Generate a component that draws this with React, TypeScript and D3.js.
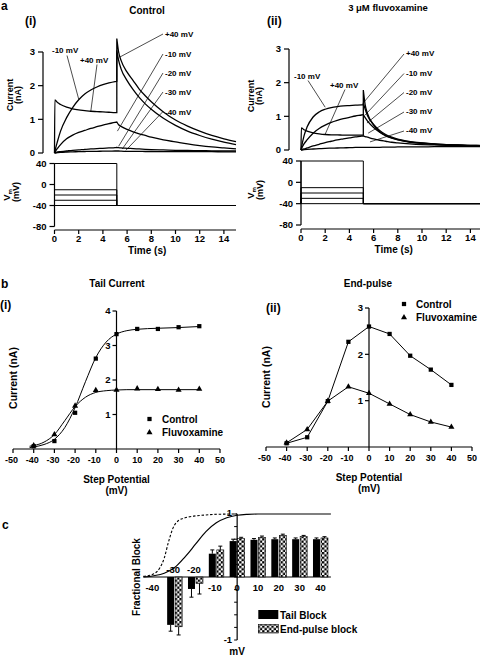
import React from 'react';
import * as d3 from 'd3';

const FONT = '"Liberation Sans", Arial, Helvetica, sans-serif';

// ===== Panel a: whole-cell current traces (nA) =====
const stepTimes = [0, 0.03, 0.25, 0.5, 1, 1.5, 2, 2.5, 3, 3.5, 4, 4.5, 5, 5.15];
const tailTimes = [5.15, 5.3, 5.5, 6, 6.5, 7, 7.5, 8, 9, 10, 11, 12, 13, 14, 15];
const traceLabels = ['+40 mV', '-10 mV', '-20 mV', '-30 mV', '-40 mV'];

const ctrlP40Step = [0, 1.58, 1.5, 1.44, 1.36, 1.31, 1.28, 1.26, 1.24, 1.23, 1.22, 1.21, 1.2, 1.2];
const ctrlM10Step = [0, 0.05, 0.35, 0.65, 1.05, 1.35, 1.58, 1.75, 1.87, 1.96, 2.03, 2.08, 2.12, 2.13];
const ctrlM20Step = [0, 0.02, 0.14, 0.25, 0.42, 0.53, 0.61, 0.67, 0.73, 0.78, 0.83, 0.87, 0.91, 0.92];
const ctrlM30Step = [0, 0.01, 0.03, 0.04, 0.06, 0.08, 0.09, 0.11, 0.12, 0.13, 0.14, 0.15, 0.16, 0.17];
const ctrlM40Step = [0, 0, 0.01, 0.02, 0.03, 0.035, 0.04, 0.045, 0.05, 0.05, 0.055, 0.055, 0.06, 0.06];
const ctrlP40Tail = [3.4, 3.0, 2.75, 2.4, 2.15, 1.9, 1.7, 1.52, 1.22, 0.98, 0.8, 0.65, 0.52, 0.42, 0.34];
const ctrlM10Tail = [3.05, 2.75, 2.5, 2.15, 1.88, 1.65, 1.46, 1.3, 1.03, 0.82, 0.65, 0.52, 0.41, 0.32, 0.25];
const ctrlM20Tail = [0.92, 0.84, 0.79, 0.7, 0.63, 0.57, 0.52, 0.47, 0.39, 0.33, 0.27, 0.22, 0.18, 0.15, 0.12];
const ctrlM30Tail = [0.17, 0.16, 0.15, 0.14, 0.13, 0.12, 0.11, 0.1, 0.09, 0.08, 0.075, 0.07, 0.065, 0.06, 0.06];
const ctrlM40Tail = [0.06, 0.06, 0.055, 0.05, 0.05, 0.05, 0.045, 0.045, 0.04, 0.04, 0.04, 0.04, 0.04, 0.035, 0.035];

const fluvP40Step = [0, 0.66, 0.6, 0.56, 0.51, 0.48, 0.46, 0.45, 0.45, 0.44, 0.44, 0.44, 0.44, 0.44];
const fluvM10Step = [0, 0.06, 0.42, 0.68, 0.98, 1.13, 1.21, 1.26, 1.29, 1.31, 1.32, 1.33, 1.34, 1.34];
const fluvM20Step = [0, 0.03, 0.18, 0.3, 0.5, 0.64, 0.74, 0.82, 0.88, 0.93, 0.97, 1.01, 1.04, 1.05];
const fluvM30Step = [0, 0.01, 0.03, 0.06, 0.12, 0.17, 0.22, 0.26, 0.3, 0.33, 0.36, 0.39, 0.41, 0.42];
const fluvM40Step = [0, 0, 0.01, 0.02, 0.03, 0.04, 0.05, 0.055, 0.06, 0.065, 0.07, 0.075, 0.08, 0.08];
const fluvP40Tail = [1.78, 1.35, 1.08, 0.74, 0.54, 0.42, 0.35, 0.3, 0.23, 0.2, 0.18, 0.16, 0.15, 0.14, 0.14];
const fluvM10Tail = [1.4, 1.22, 1.02, 0.76, 0.58, 0.46, 0.38, 0.32, 0.25, 0.21, 0.18, 0.16, 0.15, 0.14, 0.13];
const fluvM20Tail = [1.05, 0.96, 0.86, 0.67, 0.53, 0.43, 0.36, 0.31, 0.24, 0.2, 0.17, 0.15, 0.14, 0.13, 0.13];
const fluvM30Tail = [0.42, 0.4, 0.38, 0.33, 0.29, 0.26, 0.23, 0.21, 0.18, 0.16, 0.15, 0.14, 0.13, 0.12, 0.12];
const fluvM40Tail = [0.08, 0.08, 0.08, 0.08, 0.08, 0.085, 0.085, 0.09, 0.09, 0.09, 0.1, 0.1, 0.1, 0.1, 0.1];

// voltage protocol (mV, s)
const stepPotentials = [40, -10, -20, -30, -40];
const holdingPotential = -40;
const pulseEnd = 5.15;
const sweepEnd = 15;
const timeTicks = [0, 2, 4, 6, 8, 10, 12, 14];
const currentTicksA = [0, 1, 2, 3];
const vmTicks = [40, 0, -40, -80];

// ===== Panel b: I-V relations (nA) =====
const stepV = [-40, -30, -20, -10, 0, 10, 20, 30, 40];
const tailControl = [0.08, 0.23, 1.05, 2.62, 3.33, 3.48, 3.48, 3.53, 3.56];
const tailFluv = [0.1, 0.42, 1.25, 1.7, 1.71, 1.75, 1.73, 1.71, 1.74];
const tailFitV = [-42, -40, -35, -30, -25, -20, -15, -10, -5, 0, 5, 10, 20, 30, 40];
const tailFitControl = [0.04, 0.06, 0.13, 0.28, 0.62, 1.2, 1.95, 2.65, 3.1, 3.33, 3.43, 3.47, 3.5, 3.52, 3.55];
const tailFitFluv = [0.08, 0.1, 0.2, 0.42, 0.82, 1.23, 1.5, 1.64, 1.69, 1.71, 1.72, 1.72, 1.72, 1.72, 1.72];
const endControl = [0.08, 0.21, 0.99, 2.27, 2.6, 2.44, 1.97, 1.67, 1.34];
const endFluv = [0.09, 0.38, 0.99, 1.3, 1.16, 0.93, 0.7, 0.54, 0.43];
const ivTicks = [-50, -40, -30, -20, -10, 0, 10, 20, 30, 40, 50];
const tailYTicks = [1, 2, 3, 4];
const endYTicks = [1, 2, 3];

// ===== Panel c: fractional block =====
const cVoltages = [-40, -30, -20, -10, 0, 10, 20, 30, 40];
const tailBlock = [0, -0.76, -0.19, 0.37, 0.57, 0.59, 0.6, 0.6, 0.6];
const tailBlockErr = [0, 0.1, 0.13, 0.06, 0.03, 0.02, 0.02, 0.02, 0.02];
const endBlock = [0, -0.79, -0.1, 0.43, 0.61, 0.63, 0.66, 0.64, 0.62];
const endBlockErr = [0, 0.13, 0.17, 0.06, 0.02, 0.02, 0.02, 0.02, 0.02];
const actSolidV = [-45, -40, -35, -30, -25, -20, -15, -10, -5, 0, 5, 10, 45];
const actSolid = [0, 0.02, 0.06, 0.15, 0.32, 0.52, 0.72, 0.86, 0.94, 0.98, 0.995, 1, 1];
const actDashedV = [-45, -40, -37, -35, -33, -31, -28, -25, -20, -15, -10, 0];
const actDashed = [0.01, 0.05, 0.15, 0.3, 0.55, 0.76, 0.9, 0.94, 0.97, 0.985, 0.995, 1];
const blockTicks = [-1, -0.8, -0.6, -0.4, -0.2, 0, 0.2, 0.4, 0.6, 0.8, 1];

type Ann = { text: string; x: number; y: number; from: [number, number]; to: [number, number] };

function TracePanel(props: {
  tx: d3.ScaleLinear<number, number>;
  iy: d3.ScaleLinear<number, number>;
  vy: d3.ScaleLinear<number, number>;
  iAxisX: number;
  tAxisY: number;
  steps: number[][];
  tails: number[][];
  anns: Ann[];
  iLabelX: number;
  vLabelX: number;
  iLabelY: number;
  vLabelY: number;
}) {
  const { tx, iy, vy, iAxisX, tAxisY, steps, tails, anns, iLabelX, vLabelX, iLabelY, vLabelY } = props;
  const line = d3.line<[number, number]>().curve(d3.curveMonotoneX);
  const paths = steps.map((s, k) => {
    const a = line(stepTimes.map((t, i) => [tx(t), iy(s[i])] as [number, number]))!;
    const b = line(tailTimes.map((t, i) => [tx(t), iy(tails[k][i])] as [number, number]))!;
    return a + 'L' + b.slice(1);
  });
  const straight = d3.line<[number, number]>();
  const vPaths = stepPotentials.map((p) =>
    straight([
      [tx(0), vy(holdingPotential)],
      [tx(0), vy(p)],
      [tx(pulseEnd), vy(p)],
      [tx(pulseEnd), vy(holdingPotential)],
      [tx(sweepEnd), vy(holdingPotential)],
    ])!
  );
  const vAxisX = tx(0);
  return (
    <g>
      {/* current axis */}
      <line x1={iAxisX} x2={iAxisX} y1={iy(0)} y2={iy(3)} stroke="#000" strokeWidth={1.2} />
      {currentTicksA.map((v) => (
        <g key={'ci' + v}>
          <line x1={iAxisX - 5} x2={iAxisX} y1={iy(v)} y2={iy(v)} stroke="#000" strokeWidth={1.2} />
          <text x={iAxisX - 8} y={iy(v) + 3.3} fontSize={9.5} textAnchor="end">{v}</text>
        </g>
      ))}
      {/* traces */}
      {paths.map((d, i) => (
        <path key={'tr' + i} d={d} fill="none" stroke="#000" strokeWidth={1.3} />
      ))}
      {/* annotations */}
      {anns.map((a, i) => (
        <g key={'an' + i}>
          <text x={a.x} y={a.y} fontSize={8}>{a.text}</text>
          <line x1={a.from[0]} y1={a.from[1]} x2={tx(a.to[0])} y2={iy(a.to[1])} stroke="#000" strokeWidth={0.7} />
        </g>
      ))}
      {/* Vm axis */}
      <line x1={vAxisX} x2={vAxisX} y1={vy(40)} y2={vy(-80)} stroke="#000" strokeWidth={1.2} />
      {vmTicks.map((v) => (
        <g key={'vt' + v}>
          <line x1={vAxisX - 5} x2={vAxisX} y1={vy(v)} y2={vy(v)} stroke="#000" strokeWidth={1.2} />
          <text x={vAxisX - 8} y={vy(v) + 3.3} fontSize={9.5} textAnchor="end">{v}</text>
        </g>
      ))}
      {vPaths.map((d, i) => (
        <path key={'vp' + i} d={d} fill="none" stroke="#000" strokeWidth={1} />
      ))}
      {/* time axis */}
      <line x1={tx(0)} x2={tx(15)} y1={tAxisY} y2={tAxisY} stroke="#000" strokeWidth={1.2} />
      {timeTicks.map((t) => (
        <g key={'tt' + t}>
          <line x1={tx(t)} x2={tx(t)} y1={tAxisY} y2={tAxisY + 4} stroke="#000" strokeWidth={1.2} />
          <text x={tx(t)} y={tAxisY + 12} fontSize={9.5} textAnchor="middle">{t}</text>
        </g>
      ))}
      <text x={(tx(0) + tx(14)) / 2 + 8} y={tAxisY + 24} fontSize={10} textAnchor="middle">Time (s)</text>
      {/* axis titles */}
      <text transform={`translate(${iLabelX},${iLabelY}) rotate(-90)`} fontSize={9} textAnchor="middle">Current</text>
      <text transform={`translate(${iLabelX + 8},${iLabelY}) rotate(-90)`} fontSize={9} textAnchor="middle">(nA)</text>
      <text transform={`translate(${vLabelX},${vLabelY + 3}) rotate(-90)`} fontSize={9.5} textAnchor="middle">
        V<tspan fontSize={6} dy={2}>m</tspan>
      </text>
      <text transform={`translate(${vLabelX + 9},${vLabelY}) rotate(-90)`} fontSize={9} textAnchor="middle">(mV)</text>
    </g>
  );
}

export default function App() {
  // ---- panel a scales ----
  const tx1 = d3.scaleLinear().domain([0, 15]).range([54.5, 236]);
  const iy1 = d3.scaleLinear().domain([0, 3]).range([153, 52]);
  const vy1 = d3.scaleLinear().domain([-80, 40]).range([226.5, 163.5]);
  const tx2 = d3.scaleLinear().domain([0, 15]).range([301, 482.5]);
  const iy2 = d3.scaleLinear().domain([0, 3]).range([150, 49]);
  const vy2 = d3.scaleLinear().domain([-80, 40]).range([225, 161]);

  const ann1: Ann[] = [
    { text: '-10 mV', x: 52, y: 53, from: [67, 55.5], to: [2, 1.6] },
    { text: '+40 mV', x: 80, y: 63, from: [97, 64.5], to: [3, 1.24] },
    { text: traceLabels[0], x: 165, y: 37, from: [163, 34], to: [5.4, 2.85] },
    { text: traceLabels[1], x: 165, y: 57, from: [163, 54], to: [5.2, 0.65] },
    { text: traceLabels[2], x: 165, y: 76, from: [163, 73], to: [5.3, 0.2] },
    { text: traceLabels[3], x: 165, y: 95, from: [163, 92], to: [5.6, 0.12] },
    { text: traceLabels[4], x: 165, y: 114.5, from: [163, 111.5], to: [5.9, 0.08] },
  ];
  const ann2: Ann[] = [
    { text: '-10 mV', x: 294, y: 79, from: [308, 80.5], to: [2, 1.27] },
    { text: '+40 mV', x: 330, y: 88, from: [345, 89.5], to: [2, 0.47] },
    { text: traceLabels[0], x: 406, y: 56, from: [404, 54], to: [5.15, 1.4] },
    { text: traceLabels[1], x: 406, y: 75.5, from: [404, 73.5], to: [5.3, 1.04] },
    { text: traceLabels[2], x: 406, y: 94.5, from: [404, 92.5], to: [5.45, 0.8] },
    { text: traceLabels[3], x: 406, y: 114, from: [404, 112], to: [5.55, 0.5] },
    { text: traceLabels[4], x: 406, y: 133, from: [404, 131], to: [5.7, 0.24] },
  ];

  // ---- panel b scales ----
  const bx1 = d3.scaleLinear().domain([-50, 50]).range([13, 220]);
  const by1 = d3.scaleLinear().domain([0, 4]).range([449, 311]);
  const bx2 = d3.scaleLinear().domain([-50, 50]).range([266, 472]);
  const by2 = d3.scaleLinear().domain([0, 3]).range([447, 308]);
  const sq = d3.symbol().type(d3.symbolSquare).size(18)()!;
  const tri = d3.symbol().type(d3.symbolTriangle).size(16)()!;
  const smooth = d3.line<[number, number]>().curve(d3.curveMonotoneX);
  const straight = d3.line<[number, number]>();

  const fitCtrl = smooth(tailFitV.map((v, i) => [bx1(v), by1(tailFitControl[i])] as [number, number]))!;
  const fitFluv = smooth(tailFitV.map((v, i) => [bx1(v), by1(tailFitFluv[i])] as [number, number]))!;
  const endCtrlPath = straight(stepV.map((v, i) => [bx2(v), by2(endControl[i])] as [number, number]))!;
  const endFluvPath = straight(stepV.map((v, i) => [bx2(v), by2(endFluv[i])] as [number, number]))!;

  // ---- panel c scales ----
  const cx = d3.scaleLinear().domain([-45, 45]).range([143.4, 330.9]);
  const cy = d3.scaleLinear().domain([-1, 1]).range([640, 514]);
  const solidPath = smooth(actSolidV.map((v, i) => [cx(v), cy(actSolid[i])] as [number, number]))!;
  const dashedPath = smooth(actDashedV.map((v, i) => [cx(v), cy(actDashed[i])] as [number, number]))!;
  const barW = 7;

  const IVAxes = (bx: d3.ScaleLinear<number, number>, by: d3.ScaleLinear<number, number>, yt: number[], ymax: number, key: string) => (
    <g key={key}>
      <line x1={bx(-50)} x2={bx(50)} y1={by(0)} y2={by(0)} stroke="#000" strokeWidth={1.2} />
      {ivTicks.map((v) => (
        <g key={key + 'x' + v}>
          <line x1={bx(v)} x2={bx(v)} y1={by(0)} y2={by(0) + 4} stroke="#000" strokeWidth={1.2} />
          <text x={bx(v) - (v < 0 ? 1.5 : 0)} y={by(0) + 14} fontSize={9} textAnchor="middle">{v}</text>
        </g>
      ))}
      <line x1={bx(0)} x2={bx(0)} y1={by(0)} y2={by(ymax)} stroke="#000" strokeWidth={1.2} />
      {yt.map((v) => (
        <g key={key + 'y' + v}>
          <line x1={bx(0) - 4} x2={bx(0)} y1={by(v)} y2={by(v)} stroke="#000" strokeWidth={1.2} />
          <text x={bx(0) - 6} y={by(v) + 3.3} fontSize={9.5} textAnchor="end">{v}</text>
        </g>
      ))}
      <text x={bx(0)} y={by(0) + 34} fontSize={10} textAnchor="middle">Step Potential</text>
      <text x={bx(0)} y={by(0) + 45} fontSize={10} textAnchor="middle">(mV)</text>
    </g>
  );

  return (
    <svg
      width={480}
      height={659}
      style={{ position: 'absolute', left: 0, top: 0, background: '#fff' }}
      fontFamily={FONT}
      fontWeight="bold"
    >
      <defs>
        <pattern id="checker" width={4.6} height={4.6} patternUnits="userSpaceOnUse">
          <rect width={4.6} height={4.6} fill="#fff" />
          <rect width={2.3} height={2.3} fill="#000" />
          <rect x={2.3} y={2.3} width={2.3} height={2.3} fill="#000" />
        </pattern>
      </defs>
      <rect width={480} height={659} fill="#fff" />

      {/* ===== a ===== */}
      <text x={1} y={10} fontSize={12}>a</text>
      <text x={25} y={25} fontSize={12}>(i)</text>
      <text x={147} y={13.5} fontSize={10} textAnchor="middle">Control</text>
      <text x={267} y={25} fontSize={12}>(ii)</text>
      <text x={388} y={11} fontSize={9.5} textAnchor="middle">3 μM fluvoxamine</text>
      <TracePanel
        tx={tx1} iy={iy1} vy={vy1} iAxisX={43} tAxisY={230}
        steps={[ctrlP40Step, ctrlM10Step, ctrlM20Step, ctrlM30Step, ctrlM40Step]}
        tails={[ctrlP40Tail, ctrlM10Tail, ctrlM20Tail, ctrlM30Tail, ctrlM40Tail]}
        anns={ann1} iLabelX={13} vLabelX={10} iLabelY={95} vLabelY={192}
      />
      <TracePanel
        tx={tx2} iy={iy2} vy={vy2} iAxisX={289} tAxisY={229}
        steps={[fluvP40Step, fluvM10Step, fluvM20Step, fluvM30Step, fluvM40Step]}
        tails={[fluvP40Tail, fluvM10Tail, fluvM20Tail, fluvM30Tail, fluvM40Tail]}
        anns={ann2} iLabelX={254} vLabelX={254} iLabelY={96} vLabelY={190}
      />

      {/* ===== b ===== */}
      <text x={1} y={288} fontSize={12}>b</text>
      <text x={117} y={287} fontSize={10} textAnchor="middle">Tail Current</text>
      <text x={368} y={287} fontSize={10} textAnchor="middle">End-pulse</text>
      <text x={0} y={309} fontSize={12}>(i)</text>
      <text x={266} y={312} fontSize={12}>(ii)</text>
      <text transform="translate(17,378) rotate(-90)" fontSize={10.5} textAnchor="middle">Current (nA)</text>
      <text transform="translate(270,377) rotate(-90)" fontSize={10.5} textAnchor="middle">Current (nA)</text>

      {IVAxes(bx1, by1, tailYTicks, 4, 'b1')}
      <path d={fitCtrl} fill="none" stroke="#000" strokeWidth={1} />
      <path d={fitFluv} fill="none" stroke="#000" strokeWidth={1} />
      {stepV.map((v, i) => (
        <path key={'tc' + v} d={sq} transform={`translate(${bx1(v)},${by1(tailControl[i])})`} fill="#000" />
      ))}
      {stepV.map((v, i) => (
        <path key={'tf' + v} d={tri} transform={`translate(${bx1(v)},${by1(tailFluv[i])})`} fill="#000" />
      ))}
      <path d={sq} transform="translate(149.5,419)" fill="#000" />
      <text x={162} y={422.5} fontSize={10}>Control</text>
      <path d={tri} transform="translate(149.5,432.5)" fill="#000" />
      <text x={162} y={436} fontSize={10}>Fluvoxamine</text>

      {IVAxes(bx2, by2, endYTicks, 3, 'b2')}
      <path d={endCtrlPath} fill="none" stroke="#000" strokeWidth={1} />
      <path d={endFluvPath} fill="none" stroke="#000" strokeWidth={1} />
      {stepV.map((v, i) => (
        <path key={'ec' + v} d={sq} transform={`translate(${bx2(v)},${by2(endControl[i])})`} fill="#000" />
      ))}
      {stepV.map((v, i) => (
        <path key={'ef' + v} d={tri} transform={`translate(${bx2(v)},${by2(endFluv[i])})`} fill="#000" />
      ))}
      <path d={sq} transform="translate(404,304)" fill="#000" />
      <text x={416} y={308} fontSize={10}>Control</text>
      <path d={tri} transform="translate(404,317.5)" fill="#000" />
      <text x={416} y={321} fontSize={10}>Fluvoxamine</text>

      {/* ===== c ===== */}
      <text x={2} y={529} fontSize={12}>c</text>
      <line x1={cx(-45)} x2={cx(45)} y1={cy(0)} y2={cy(0)} stroke="#000" strokeWidth={1.2} />
      <line x1={cx(0)} x2={cx(0)} y1={cy(1)} y2={cy(-1)} stroke="#000" strokeWidth={1.2} />
      {blockTicks.map((v) => (
        <line key={'bt' + v} x1={cx(0) - 3} x2={cx(0)} y1={cy(v)} y2={cy(v)} stroke="#000" strokeWidth={1} />
      ))}
      <text x={cx(0) - 5} y={cy(1) + 2} fontSize={9.5} textAnchor="end">1</text>
      <text x={cx(0) - 5} y={cy(-1) + 3.3} fontSize={9.5} textAnchor="end">-1</text>
      <path d={solidPath} fill="none" stroke="#000" strokeWidth={1.2} />
      <path d={dashedPath} fill="none" stroke="#000" strokeWidth={1.1} strokeDasharray="2.5,1.8" />
      {cVoltages.map((v, i) => {
        const c = cx(v);
        const t = tailBlock[i];
        const e = endBlock[i];
        const te = tailBlockErr[i];
        const ee = endBlockErr[i];
        const tEnd = t + Math.sign(t) * te;
        const eEnd = e + Math.sign(e) * ee;
        return (
          <g key={'cb' + v}>
            {t !== 0 && (
              <g>
                <rect x={c - 7.5} width={barW} y={Math.min(cy(t), cy(0))} height={Math.abs(cy(t) - cy(0))} fill="#000" />
                <line x1={c - 4} x2={c - 4} y1={cy(t)} y2={cy(tEnd)} stroke="#000" strokeWidth={1} />
                <line x1={c - 6} x2={c - 2} y1={cy(tEnd)} y2={cy(tEnd)} stroke="#000" strokeWidth={1} />
              </g>
            )}
            {e !== 0 && (
              <g>
                <rect x={c + 0.5} width={barW} y={Math.min(cy(e), cy(0))} height={Math.abs(cy(e) - cy(0))} fill="url(#checker)" stroke="#000" strokeWidth={0.6} />
                <line x1={c + 4} x2={c + 4} y1={cy(e)} y2={cy(eEnd)} stroke="#000" strokeWidth={1} />
                <line x1={c + 2} x2={c + 6} y1={cy(eEnd)} y2={cy(eEnd)} stroke="#000" strokeWidth={1} />
              </g>
            )}
          </g>
        );
      })}
      {cVoltages.map((v, i) => {
        const above = tailBlock[i] < 0;
        return (
          <text key={'cl' + v} x={cx(v) - (v < 0 ? 1.5 : 0)} y={above ? cy(0) - 4 : cy(0) + 14} fontSize={9.5} textAnchor="middle">
            {v}
          </text>
        );
      })}
      <text transform="translate(140,577) rotate(-90)" fontSize={10} textAnchor="middle">Fractional Block</text>
      <text x={cx(0)} y={655} fontSize={10} textAnchor="middle">mV</text>
      <rect x={258.3} y={610} width={20} height={9} fill="#000" />
      <text x={280} y={619} fontSize={10}>Tail Block</text>
      <rect x={258.3} y={624.5} width={20} height={8.5} fill="url(#checker)" stroke="#000" strokeWidth={0.6} />
      <text x={280} y={633} fontSize={10}>End-pulse block</text>
    </svg>
  );
}
